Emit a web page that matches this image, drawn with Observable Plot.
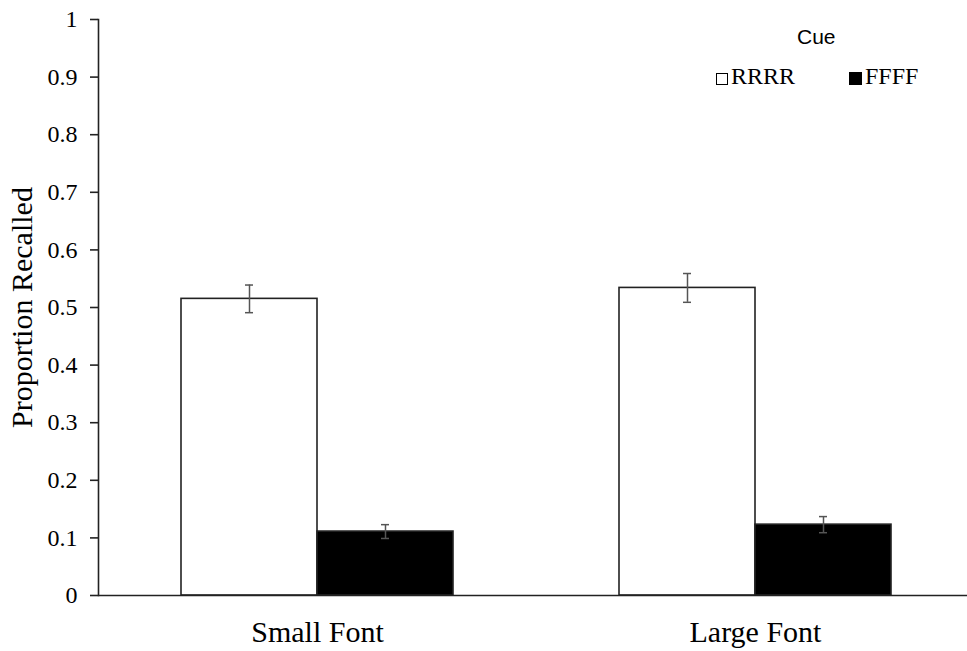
<!DOCTYPE html>
<html>
<head>
<meta charset="utf-8">
<script src="https://cdn.jsdelivr.net/npm/d3@7"></script>
<script src="https://cdn.jsdelivr.net/npm/@observablehq/plot@0.6"></script>
<style>
  body { margin: 0; background: #fff; }
  #wrap { position: relative; width: 967px; height: 651px; overflow: hidden; }
  #wrap svg { display: block; }
  .lg { position: absolute; white-space: nowrap; color: #000; line-height: 1; }
  .serif { font-family: "Liberation Serif", "Times New Roman", serif; font-size: 24px; }
  .sans { font-family: "Liberation Sans", Arial, sans-serif; font-size: 21px; }
  .sw { position: absolute; box-sizing: border-box; }
</style>
</head>
<body>
<div id="wrap"></div>
<script>
// Data
const groups = ["Small Font", "Large Font"];
const cues = ["RRRR", "FFFF"];
const groupCol = ["Small Font", "Small Font", "Large Font", "Large Font"];
const cueCol = ["RRRR", "FFFF", "RRRR", "FFFF"];
const meanValues = [0.515, 0.111, 0.534, 0.123];
const errorValues = [0.024, 0.012, 0.025, 0.014];
const yTicks = [0, 0.1, 0.2, 0.3, 0.4, 0.5, 0.6, 0.7, 0.8, 0.9, 1];
const yTickLabels = ["0", "0.1", "0.2", "0.3", "0.4", "0.5", "0.6", "0.7", "0.8", "0.9", "1"];
const yTitle = ["Proportion Recalled"];
const legendTitle = "Cue";

const serif = "'Liberation Serif', 'Times New Roman', serif";

const rows = groupCol.map((g, i) => ({
  group: g,
  cue: cueCol[i],
  mean: meanValues[i],
  lo: meanValues[i] - errorValues[i],
  hi: meanValues[i] + errorValues[i]
}));
const tickRows = yTicks.map((v, i) => ({ v, label: yTickLabels[i] }));

const chart = Plot.plot({
  width: 967,
  height: 651,
  marginTop: 19,
  marginBottom: 56,
  marginLeft: 97,
  marginRight: -7,
  style: {
    fontFamily: serif,
    fontSize: "24px",
    color: "#000",
    background: "#fff"
  },
  fx: { domain: groups, padding: 0, axis: null },
  x: { domain: cues, paddingInner: 0, paddingOuter: 0.607, axis: null },
  y: { domain: [0, 1], axis: null },
  marks: [
    Plot.barY(rows, {
      fx: "group", x: "cue", y: "mean",
      fill: d => (d.cue === "RRRR" ? "#fff" : "#000"),
      stroke: "#222", strokeWidth: 1.6
    }),
    Plot.ruleY([0], { stroke: "#222", strokeWidth: 1.6 }),
    Plot.frame({ anchor: "left", facetAnchor: "left", stroke: "#222", strokeWidth: 1.6 }),
    Plot.ruleX(rows, { fx: "group", x: "cue", y1: "lo", y2: "hi", stroke: "#555", strokeWidth: 1.5 }),
    Plot.tickY(rows, { fx: "group", x: "cue", y: "lo", insetLeft: 64, insetRight: 64, stroke: "#555", strokeWidth: 1.5 }),
    Plot.tickY(rows, { fx: "group", x: "cue", y: "hi", insetLeft: 64, insetRight: 64, stroke: "#555", strokeWidth: 1.5 }),
    Plot.axisY({
      ticks: yTicks, tickSize: 8, tickFormat: () => "", label: null,
      stroke: "#222", strokeWidth: 1.6
    }),
    Plot.text(tickRows, {
      y: "v", text: "label", frameAnchor: "left", textAnchor: "end",
      dx: -21, fontSize: 24, fontFamily: serif, fill: "#000", facetAnchor: "left"
    }),
    Plot.axisFx({ anchor: "bottom", tickSize: 0, tickPadding: 25, fontSize: 30, fontFamily: serif, label: null }),
    Plot.text(yTitle, {
      frameAnchor: "left", textAnchor: "middle", rotate: -90, dx: -76,
      fontSize: 30, fontFamily: serif, facetAnchor: "left"
    })
  ]
});

const wrap = document.getElementById("wrap");
wrap.appendChild(chart);

// Legend (HTML overlay)
function addText(txt, cls, left, top) {
  const s = document.createElement("span");
  s.className = "lg " + cls;
  s.textContent = txt;
  s.style.left = left + "px";
  s.style.top = top + "px";
  wrap.appendChild(s);
}
function addSwatch(fill, left, top, size) {
  const d = document.createElement("div");
  d.className = "sw";
  d.style.left = left + "px";
  d.style.top = top + "px";
  d.style.width = size + "px";
  d.style.height = size + "px";
  d.style.background = fill;
  d.style.border = "1.5px solid #000";
  wrap.appendChild(d);
}
addText(legendTitle, "sans", 797, 26);
addSwatch("#fff", 716, 73, 12);
addText(cues[0], "serif", 731, 64);
addSwatch("#000", 849, 72, 13);
addText(cues[1], "serif", 865, 64);
</script>
</body>
</html>
